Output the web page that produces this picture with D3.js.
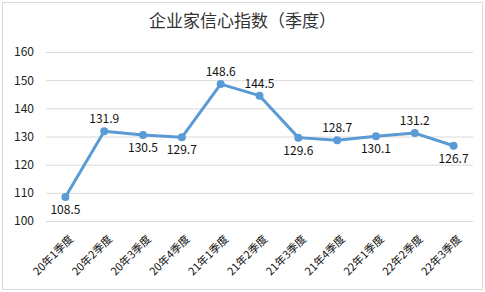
<!DOCTYPE html>
<html>
<head>
<meta charset="utf-8">
<script src="https://cdn.jsdelivr.net/npm/d3@7"></script>
<style>
    body { margin: 0; background: #fff; }
    text { font-family: "Noto Sans CJK SC", "Noto Sans", sans-serif; }
</style>
</head>
<body>
<div class="chart"></div>
<script>
const quarters = ["20年1季度", "20年2季度", "20年3季度", "20年4季度", "21年1季度", "21年2季度",
    "21年3季度", "21年4季度", "22年1季度", "22年2季度", "22年3季度"];
const values = [108.5, 131.9, 130.5, 129.7, 148.6, 144.5, 129.6, 128.7, 130.1, 131.2, 126.7];
const labelAbove = [false, true, false, false, true, true, false, true, false, true, false];
const yTicks = [100, 110, 120, 130, 140, 150, 160];

const w = 485, h = 292,
    padL = 46, padR = 473, padT = 52, padB = 221;

const svg = d3.select(".chart").append("svg")
    .attr("width", w)
    .attr("height", h);

svg.append("rect")
    .attr("x", 2.5).attr("y", 2.5)
    .attr("width", w - 5).attr("height", h - 5)
    .attr("fill", "#fff")
    .attr("stroke", "#d9d9d9");

svg.append("text")
    .attr("x", w / 2)
    .attr("y", 27)
    .attr("text-anchor", "middle")
    .attr("font-size", 17)
    .attr("fill", "#333")
    .text("企业家信心指数（季度）");

const xScale = d3.scaleBand()
    .domain(quarters)
    .range([padL, padR]);

const yScale = d3.scaleLinear()
    .domain([100, 160])
    .range([padB, padT]);

// grid
svg.append("g")
    .selectAll("line")
    .data(yTicks)
    .enter()
    .append("line")
    .attr("x1", padL).attr("x2", padR)
    .attr("y1", d => yScale(d) + 0.5).attr("y2", d => yScale(d) + 0.5)
    .attr("stroke", "#d9d9d9");

const yAxis = d3.axisLeft(yScale).tickValues(yTicks).tickSize(0).tickPadding(8);
svg.append("g")
    .attr("transform", "translate(" + (padL - 4) + ",0)")
    .call(yAxis)
    .call(g => g.select(".domain").remove())
    .selectAll("text")
    .attr("font-size", 12)
    .attr("fill", "#222")
    .attr("font-family", "'Liberation Sans', Arial, sans-serif");

const xAxis = d3.axisBottom(xScale).tickSize(0).tickPadding(0);
svg.append("g")
    .attr("transform", "translate(0," + padB + ")")
    .call(xAxis)
    .call(g => g.select(".domain").remove())
    .selectAll("text")
    .attr("font-size", 11)
    .attr("fill", "#111")
    .attr("text-anchor", "end")
    .attr("dy", "0.35em")
    .attr("transform", "translate(6,16) rotate(-45)");

const cx = d => xScale(d) + xScale.bandwidth() / 2;

const line = d3.line()
    .x((d, i) => cx(quarters[i]))
    .y(d => yScale(d));

svg.append("path")
    .datum(values)
    .attr("d", line)
    .attr("fill", "none")
    .attr("stroke", "#5b9bd5")
    .attr("stroke-width", 3)
    .attr("stroke-linejoin", "round");

svg.selectAll("circle.pt")
    .data(values)
    .enter()
    .append("circle")
    .attr("class", "pt")
    .attr("cx", (d, i) => cx(quarters[i]))
    .attr("cy", d => yScale(d))
    .attr("r", 4)
    .attr("fill", "#5b9bd5");

svg.selectAll("text.lbl")
    .data(values)
    .enter()
    .append("text")
    .attr("class", "lbl")
    .attr("x", (d, i) => cx(quarters[i]))
    .attr("y", (d, i) => yScale(d) + (labelAbove[i] ? -8 : 17))
    .attr("text-anchor", "middle")
    .attr("font-size", 12)
    .attr("fill", "#111")
    .attr("font-family", "'Liberation Sans', Arial, sans-serif")
    .text(d => d.toFixed(1));
</script>
</body>
</html>
